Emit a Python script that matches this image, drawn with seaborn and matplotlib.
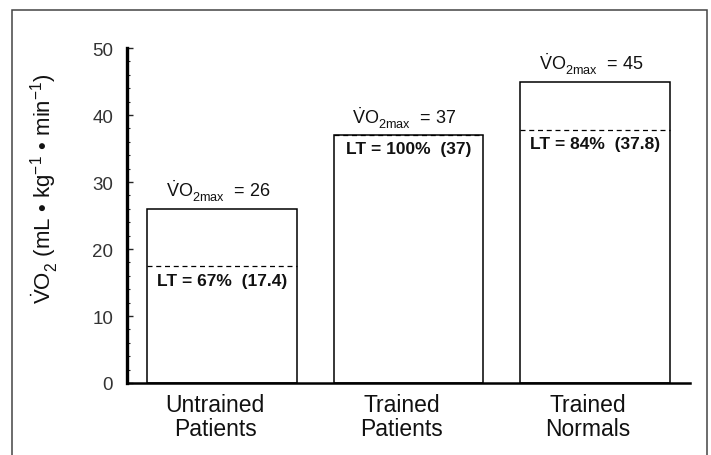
import matplotlib
matplotlib.use("Agg")
import matplotlib.pyplot as plt
import matplotlib.transforms as mtransforms
from matplotlib.patches import Rectangle
from matplotlib.ticker import MultipleLocator
import seaborn as sns
import pandas as pd

# Peak oxygen uptake and lactate threshold per group
groups = ["Untrained\nPatients", "Trained\nPatients", "Trained\nNormals"]
vo2max = [26, 37, 45]
lt_percent = [67, 100, 84]
lt_value = [17.4, 37, 37.8]
y_ticks = [0, 10, 20, 30, 40, 50]

sns.set_style("ticks")
plt.rcParams["font.family"] = ["Liberation Sans", "DejaVu Sans"]
plt.rcParams["mathtext.fontset"] = "custom"
plt.rcParams["mathtext.rm"] = "Liberation Sans"
plt.rcParams["mathtext.it"] = "Liberation Sans:italic"
plt.rcParams["mathtext.bf"] = "Liberation Sans:bold"

# Drop subscripts a little lower than the mathtext default
try:
    from matplotlib import _mathtext

    class _LowSubConstants(_mathtext.FontConstantsBase):
        sub1 = 0.55
        sub2 = 0.7

    _mathtext._font_constant_mapping["Liberation Sans"] = _LowSubConstants
except Exception:
    pass

df = pd.DataFrame({"group": groups, "vo2max": vo2max})

fig = plt.figure(figsize=(7.11, 4.56), dpi=100)
ax = fig.add_axes([0.1786, 0.1579, 0.7919, 0.7346])

sns.barplot(data=df, x="group", y="vo2max", color="white", edgecolor="black",
            linewidth=1.1, width=0.8, saturation=1, ax=ax)

ax.set_xlim(-0.51, 2.51)
ax.set_ylim(0, 50)
ax.set_yticks(y_ticks)
ax.yaxis.set_minor_locator(MultipleLocator(2))
ax.tick_params(axis="y", which="major", direction="in", length=4, width=1,
               pad=10, labelsize=13.5, labelcolor="#333333")
ax.tick_params(axis="y", which="minor", direction="in", length=2, width=0.8)
ax.tick_params(axis="x", length=0, pad=7, labelsize=16.5, labelcolor="#111111")
ax.set_xlabel("")
ax.set_ylabel("")

# Category labels sit slightly left of bar centres
shift = mtransforms.ScaledTranslation(-5 / 72, 0, fig.dpi_scale_trans)
for lbl in ax.get_xticklabels():
    lbl.set_transform(lbl.get_transform() + shift)
    lbl.set_linespacing(1.05)

for side in ("top", "right"):
    ax.spines[side].set_visible(False)
ax.spines["left"].set_linewidth(2.4)
ax.spines["bottom"].set_linewidth(1.8)
ax.spines["left"].set_color("black")
ax.spines["bottom"].set_color("black")

# Lactate threshold lines and labels inside each bar
for patch, pct, lt, top in zip(ax.patches, lt_percent, lt_value, vo2max):
    x0 = patch.get_x()
    w = patch.get_width()
    xc = x0 + w / 2
    ax.hlines(lt, x0, x0 + w, colors="black", linestyles=(0, (4, 3)), linewidth=0.9)
    ax.annotate(f"LT = {pct}%  ({lt:g})", xy=(xc, lt), xytext=(0, -4.5),
                textcoords="offset points", ha="center", va="top",
                fontsize=12.5, fontweight="bold", color="#111111")
    ax.annotate(r"$\dot{\mathrm{V}}\mathrm{O}_{\mathrm{2max}}$" + f"  = {top}",
                xy=(xc, top), xytext=(-3, 4), textcoords="offset points",
                ha="center", va="bottom", fontsize=13, color="#111111")

fig.text(45 / 711, 1 - 189 / 456,
         r"$\dot{\mathrm{V}}\mathrm{O}_2$ (mL • kg$^{-1}$ • min$^{-1}$)",
         rotation=90, ha="center", va="center", fontsize=16, color="#111111")

# Outer frame around the whole figure
fig.patches.append(Rectangle((12 / 711, -0.02), 695 / 711, 0.02 + 1 - 11 / 456,
                             transform=fig.transFigure, fill=False,
                             edgecolor="#444444", linewidth=1.1, clip_on=False))

fig.savefig("out.png", dpi=100)
